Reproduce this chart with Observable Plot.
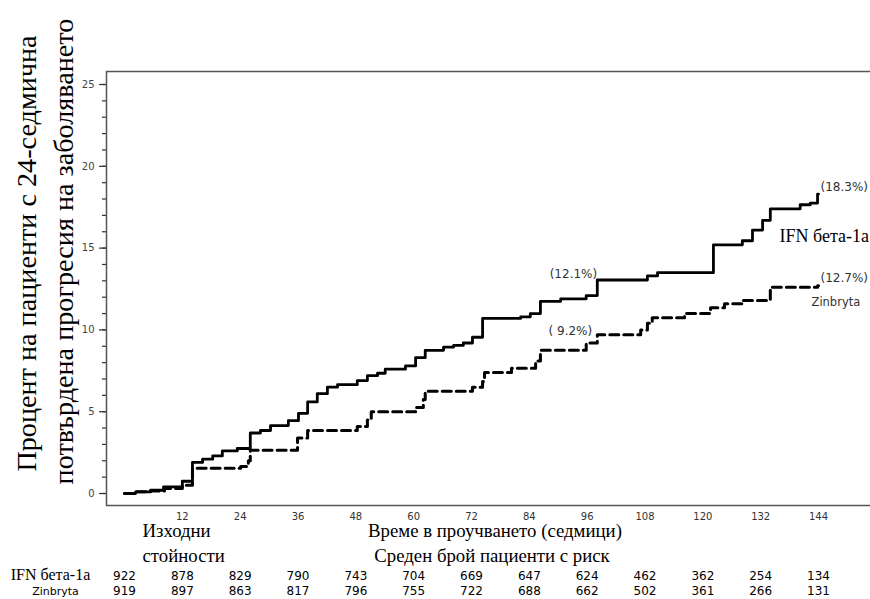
<!DOCTYPE html>
<html><head><meta charset="utf-8">
<script src="https://cdn.jsdelivr.net/npm/d3@7"></script>
<script src="https://cdn.jsdelivr.net/npm/@observablehq/plot@0.6"></script>
<style>body{margin:0;background:#fff;} svg{display:block}</style>
</head><body><div id="chart"></div>
<script>
// Kaplan-Meier step curves (weeks, cumulative % progressed)
const weeksIFN = [0, 2.3, 5.4, 8.1, 12.0, 14.1, 16.2, 18.3, 20.3, 23.4, 26.1, 28.2, 30.3, 34.0, 36.1, 38.0, 40.0, 42.1, 44.2, 48.3, 50.4, 52.5, 54.1, 58.3, 60.4, 62.4, 66.2, 68.3, 70.3, 72.2, 74.3, 82.2, 84.2, 86.3, 90.5, 95.8, 98.1, 108.5, 110.6, 122.2, 128.2, 130.3, 132.4, 134.0, 140.2, 142.3, 143.8, 144];
const pctIFN   = [0, 0.1, 0.2, 0.4, 0.75, 1.9, 2.1, 2.3, 2.6, 2.75, 3.7, 3.85, 4.15, 4.45, 4.9, 5.6, 6.1, 6.5, 6.65, 6.9, 7.2, 7.35, 7.6, 7.8, 8.3, 8.75, 8.95, 9.05, 9.2, 9.55, 10.7, 10.8, 11.0, 11.75, 11.9, 12.1, 13.05, 13.3, 13.5, 15.2, 15.45, 16.1, 16.7, 17.4, 17.65, 17.75, 18.3, 18.3];
const weeksZin = [0, 2.3, 5.4, 8.3, 12.0, 14.1, 24.1, 25.7, 26.1, 35.9, 38.0, 48.3, 50.4, 51.2, 60.4, 62.0, 62.4, 72.2, 74.3, 74.7, 80.3, 85.3, 86.3, 95.8, 98.1, 107.1, 108.5, 109.5, 116.2, 121.6, 124.5, 128.2, 134.0, 143.8, 144];
const pctZin   = [0, 0.1, 0.15, 0.3, 0.5, 1.55, 1.65, 2.0, 2.65, 3.4, 3.85, 4.1, 4.5, 5.0, 5.25, 5.75, 6.25, 6.5, 6.85, 7.4, 7.65, 8.1, 8.75, 9.2, 9.7, 10.0, 10.4, 10.75, 11.0, 11.35, 11.6, 11.8, 12.6, 12.7, 12.7];

// axes
const xTicks = [12, 24, 36, 48, 60, 72, 84, 96, 108, 120, 132, 144];
const yTicks = [0, 5, 10, 15, 20, 25];
const yMinor = d3.range(0, 26);

// number at risk
const riskWeeks = [0, 12, 24, 36, 48, 60, 72, 84, 96, 108, 120, 132, 144];
const riskIFN = [922, 878, 829, 790, 743, 704, 669, 647, 624, 462, 362, 254, 134];
const riskZin = [919, 897, 863, 817, 796, 755, 722, 688, 662, 502, 361, 266, 131];

// annotations
const annWeeks = [96, 96, 144, 144];
const annPct = [12.1, 9.2, 18.3, 12.7];
const annText = ["(12.1%)", "( 9.2%)", "(18.3%)", "(12.7%)"];

const serif = "'Liberation Serif', 'Times New Roman', serif";
const sans = "'DejaVu Sans', Verdana, sans-serif";

const ifn = weeksIFN.map((w, i) => ({week: w, pct: pctIFN[i]}));
const zin = weeksZin.map((w, i) => ({week: w, pct: pctZin[i]}));
const ann = annWeeks.map((w, i) => ({week: w, pct: annPct[i], t: annText[i], i}));
const risk = riskWeeks.map((w, i) => ({week: w, a: riskIFN[i], b: riskZin[i]}));

const annDx = [10, 5, 2, 2];
const annDy = [-21, -12, -7, -8];
const annAnchor = ["end", "end", "start", "start"];

const chart = Plot.plot({
  width: 870, height: 599,
  marginLeft: 106, marginRight: -3, marginTop: 71, marginBottom: 94,
  style: {background: "white", color: "#333", overflow: "visible"},
  x: {domain: [-3.735, 155.41], label: null},
  y: {domain: [-0.733, 25.795], label: null},
  marks: [
    Plot.axisY({ticks: yMinor, tickSize: 4, tickFormat: () => "", stroke: "#333", strokeWidth: 1.2, label: null}),
    Plot.axisY({ticks: yTicks, tickSize: 7, tickPadding: 5, fontSize: 10, fontFamily: sans, fill: "#444", stroke: "#333", strokeWidth: 1.2, label: null}),
    Plot.axisX({ticks: xTicks, tickSize: 0, tickPadding: 7, fontSize: 10, fontFamily: sans, fill: "#333", label: null}),
    Plot.frame({stroke: "#555", strokeWidth: 1.5}),
    Plot.line(zin, {x: "week", y: "pct", curve: "step-after", stroke: "black", strokeWidth: 3, strokeDasharray: "9,5"}),
    Plot.line(ifn, {x: "week", y: "pct", curve: "step-after", stroke: "black", strokeWidth: 2.8}),
    ...ann.map(d => Plot.text([d], {x: "week", y: "pct", text: "t", textAnchor: annAnchor[d.i], dx: annDx[d.i], dy: annDy[d.i], fontFamily: sans, fontSize: 12, fill: "#333"})),
    Plot.text([ifn[ifn.length - 1]], {x: "week", y: "pct", text: () => "IFN бета-1а", textAnchor: "start", dx: -39, dy: 42, fontFamily: serif, fontSize: 18, fill: "#000"}),
    Plot.text([zin[zin.length - 1]], {x: "week", y: "pct", text: () => "Zinbryta", textAnchor: "start", dx: -7, dy: 17, fontFamily: sans, fontSize: 11.5, fill: "#333"}),
    // y title
    Plot.text(["Процент на пациенти с 24-седмична"], {text: d => d, frameAnchor: "left", textAnchor: "middle", dx: -80, dy: -35, rotate: -90, fontFamily: serif, fontSize: 28.2, fill: "#000"}),
    Plot.text(["потвърдена прогресия на заболяването"], {text: d => d, frameAnchor: "left", textAnchor: "middle", dx: -43, dy: -37, rotate: -90, fontFamily: serif, fontSize: 28.2, fill: "#000"}),
    // x title & table
    Plot.text(["Време в проучването (седмици)"], {text: d => d, frameAnchor: "bottom", dx: 5, dy: 31, fontFamily: serif, fontSize: 18.8, fill: "#000"}),
    Plot.text(["Изходни"], {text: d => d, frameAnchor: "bottom-left", textAnchor: "start", dx: 36, dy: 31, fontFamily: serif, fontSize: 18.8, fill: "#000"}),
    Plot.text(["стойности"], {text: d => d, frameAnchor: "bottom-left", textAnchor: "start", dx: 36, dy: 56, fontFamily: serif, fontSize: 18.8, fill: "#000"}),
    Plot.text(["Среден брой пациенти с риск"], {text: d => d, frameAnchor: "bottom", dx: 2, dy: 56, fontFamily: serif, fontSize: 18.8, fill: "#000"}),
    Plot.text(["IFN бета-1а"], {text: d => d, frameAnchor: "bottom-left", textAnchor: "middle", dx: -56, dy: 74, fontFamily: serif, fontSize: 16, fill: "#000"}),
    Plot.text(["Zinbryta"], {text: d => d, frameAnchor: "bottom-left", textAnchor: "middle", dx: -51, dy: 89, fontFamily: sans, fontSize: 11, fill: "#000"}),
    Plot.text(risk, {x: "week", text: "a", frameAnchor: "bottom", dy: 74, fontFamily: sans, fontSize: 12, fill: "#000"}),
    Plot.text(risk, {x: "week", text: "b", frameAnchor: "bottom", dy: 89, fontFamily: sans, fontSize: 12, fill: "#000"})
  ]
});
document.getElementById("chart").appendChild(chart);
</script>
</body></html>
